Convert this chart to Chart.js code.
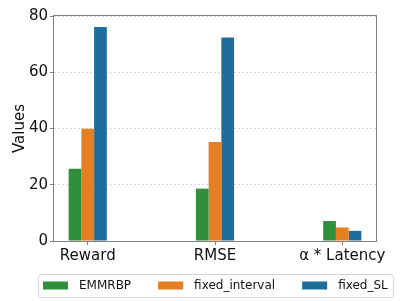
<!DOCTYPE html>
<html lang="en">
<head>
  <meta charset="UTF-8">
  <title>Values per metric</title>
  <style>
    html, body {
      margin: 0;
      padding: 0;
      background: #fff;
    }
    #wrap {
      width: 410px;
      height: 301px;
    }
  </style>
</head>
<body>
  <div id="wrap"><canvas id="chart"></canvas></div>

  <script src="https://cdn.jsdelivr.net/npm/chart.js"></script>
  <script>
    // x axis categories
    const categories = ['Reward', 'RMSE', 'α * Latency'];
    // one array per method, same order as categories
    const emmrbp = [25.7, 18.6, 7.1];
    const fixedInterval = [39.9, 35.2, 4.8];
    const fixedSL = [76.1, 72.4, 3.6];
    // y axis ticks
    const yTicks = [0, 20, 40, 60, 80];

    const seriesNames = ['EMMRBP', 'fixed_interval', 'fixed_SL'];
    const seriesColors = ['#2f8f3a', '#e67e22', '#1f6d9d'];

    Chart.defaults.font.family = '"DejaVu Sans", sans-serif';
    Chart.defaults.color = '#111';

    // bars sit on a numeric x axis so the outer margins match the original
    function toPoints(values) {
      return values.map((v, i) => ({ x: i, y: v }));
    }

    const datasets = [emmrbp, fixedInterval, fixedSL].map((vals, k) => ({
      label: seriesNames[k],
      data: toPoints(vals),
      backgroundColor: seriesColors[k],
      borderWidth: 0,
      categoryPercentage: 0.3,
      barPercentage: 1.0
    }));

    // box around the plot area (all four spines)
    const framePlugin = {
      id: 'frame',
      afterDatasetsDraw(chart) {
        const { ctx, chartArea: a } = chart;
        ctx.save();
        ctx.strokeStyle = '#808080';
        ctx.lineWidth = 1;
        ctx.strokeRect(Math.round(a.left) - 0.5, Math.round(a.top) - 0.5,
                       Math.round(a.right - a.left) + 1, Math.round(a.bottom - a.top) + 1);
        ctx.restore();
      }
    };

    // legend in a rounded box under the axis, like matplotlib's
    const legendBox = {
      id: 'legendBox',
      afterDraw(chart) {
        const { ctx, chartArea: a } = chart;
        const sets = chart.data.datasets;
        const handle = 25, gap = 11, col = 27, pad = 5;
        ctx.save();
        ctx.font = '12px "DejaVu Sans"';
        const widths = sets.map(d => ctx.measureText(d.label).width);
        let total = pad * 2 + col * (sets.length - 1);
        widths.forEach(w => { total += handle + gap + w; });
        const x0 = Math.round((a.left + a.right) / 2 - total / 2);
        const h = 23;
        const y0 = chart.height - 27;

        ctx.beginPath();
        ctx.roundRect(x0 + 0.5, y0 + 0.5, Math.round(total), h, 3);
        ctx.fillStyle = 'rgba(255,255,255,0.8)';
        ctx.fill();
        ctx.strokeStyle = '#d4d4d4';
        ctx.lineWidth = 1;
        ctx.stroke();

        const cy = y0 + h / 2 + 0.5;
        let x = x0 + pad;
        sets.forEach((d, i) => {
          ctx.fillStyle = d.backgroundColor;
          ctx.fillRect(x, cy - 4.5, handle, 8);
          x += handle + gap;
          ctx.fillStyle = '#111';
          ctx.textBaseline = 'middle';
          ctx.fillText(d.label, x, cy);
          x += widths[i] + col;
        });
        ctx.restore();
      }
    };

    new Chart(document.getElementById('chart'), {
      type: 'bar',
      data: { datasets: datasets },
      plugins: [framePlugin, legendBox],
      options: {
        responsive: true,
        maintainAspectRatio: false,
        animation: false,
        layout: {
          padding: { top: 16, right: 34, left: 0, bottom: 0 }
        },
        plugins: {
          legend: { display: false },
          tooltip: { enabled: false }
        },
        scales: {
          x: {
            type: 'linear',
            offset: false,
            min: -0.265,
            max: 2.265,
            afterBuildTicks(scale) {
              scale.ticks = categories.map((c, i) => ({ value: i }));
            },
            afterFit(scale) {
              scale.height = 60;
            },
            ticks: {
              autoSkip: false,
              maxRotation: 0,
              padding: 2,
              font: { size: 15 },
              color: '#111',
              callback: (value) => categories[value]
            },
            grid: {
              drawOnChartArea: false,
              offset: false,
              tickLength: 4,
              tickColor: '#808080'
            },
            border: { display: false }
          },
          y: {
            min: yTicks[0],
            max: yTicks[yTicks.length - 1],
            afterBuildTicks(scale) {
              scale.ticks = yTicks.map(v => ({ value: v }));
            },
            afterFit(scale) {
              scale.width = 54;
            },
            ticks: {
              padding: 2,
              font: { size: 15 },
              color: '#111'
            },
            grid: {
              color: 'rgba(176,176,176,0.5)',
              tickColor: '#808080',
              tickLength: 4,
              tickBorderDash: []
            },
            border: { display: false, dash: [2, 2] },
            title: {
              display: true,
              text: 'Values',
              font: { size: 15 },
              color: '#111',
              padding: { top: 11, bottom: 0 }
            }
          }
        }
      }
    });
  </script>
</body>
</html>
